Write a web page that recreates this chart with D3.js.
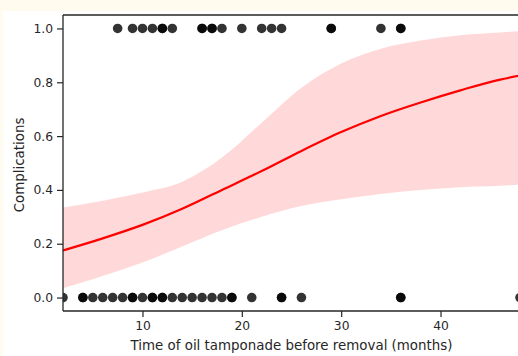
<!DOCTYPE html>
<html><head><meta charset="utf-8">
<script src="https://cdn.jsdelivr.net/npm/d3@7"></script>
<style>body{margin:0;background:#fff;} svg{display:block;}</style>
</head><body><svg id="c" width="518" height="356"></svg>
<script>
// Observations (x in months), outcome 1 and outcome 0
const oneX = [7.5, 9, 10, 11, 12, 12, 13, 16, 16, 17, 17, 18, 20, 22, 23, 24, 29, 29, 34, 36, 36];
const zeroX = [2, 4, 4, 5, 6, 7, 8, 9, 9, 10, 11, 11, 12, 12, 13, 14, 15, 16, 17, 18, 19, 19, 21, 24, 24, 26, 36, 36, 48];
// Fitted logistic curve and confidence band
const gridX = [2, 6, 10, 14, 18, 22, 26, 30, 34, 38, 42, 46, 48];
const fitY  = [0.175, 0.22, 0.27, 0.33, 0.40, 0.47, 0.545, 0.615, 0.675, 0.725, 0.77, 0.81, 0.825];
const hiY   = [0.335, 0.36, 0.39, 0.43, 0.52, 0.65, 0.78, 0.87, 0.925, 0.955, 0.975, 0.985, 0.99];
const loY   = [0.035, 0.08, 0.13, 0.19, 0.25, 0.30, 0.34, 0.365, 0.385, 0.40, 0.41, 0.415, 0.42];
const xTicks = [10, 20, 30, 40];
const yTicks = [0.0, 0.2, 0.4, 0.6, 0.8, 1.0];

const svg = d3.select("#c");
const W = 518, H = 356;
svg.append("rect").attr("width", W).attr("height", H).attr("fill", "#fff");
svg.append("rect").attr("width", W).attr("height", 11).attr("fill", "#fffcef");
svg.append("rect").attr("width", 3).attr("height", H).attr("fill", "#fffcef");

const L = 63, R = 520, T = 15, B = 311;
const x = d3.scaleLinear().domain([2, 48]).range([L, R]);
const y = d3.scaleLinear().domain([-0.05, 1.05]).range([B, T]);

svg.append("clipPath").attr("id", "clip").append("rect")
  .attr("x", L).attr("y", T).attr("width", R - L).attr("height", B - T);
const g = svg.append("g").attr("clip-path", "url(#clip)");

const idx = d3.range(gridX.length);
g.append("path")
  .attr("d", d3.area().curve(d3.curveMonotoneX)
    .x(i => x(gridX[i])).y0(i => y(loY[i])).y1(i => y(hiY[i]))(idx))
  .attr("fill", "#ff0000").attr("fill-opacity", 0.15);

const pts = zeroX.map(v => [v, 0]).concat(oneX.map(v => [v, 1]));
g.selectAll("circle").data(pts).enter().append("circle")
  .attr("cx", d => x(d[0])).attr("cy", d => y(d[1])).attr("r", 4.8)
  .attr("fill", "#000").attr("fill-opacity", 0.8);

g.append("path")
  .attr("d", d3.line().curve(d3.curveMonotoneX)
    .x(i => x(gridX[i])).y(i => y(fitY[i]))(idx))
  .attr("fill", "none").attr("stroke", "#ff0000").attr("stroke-width", 2.2);

const font = "DejaVu Sans, sans-serif";
const xAxis = svg.append("g").attr("transform", `translate(0,${B})`)
  .call(d3.axisBottom(x).tickValues(xTicks).tickFormat(d3.format("d")).tickSize(6).tickPadding(4));
const yAxis = svg.append("g").attr("transform", `translate(${L},0)`)
  .call(d3.axisLeft(y).tickValues(yTicks).tickFormat(d3.format(".1f")).tickSize(6).tickPadding(4));
[xAxis, yAxis].forEach(a => {
  a.select(".domain").remove();
  a.selectAll("line").attr("stroke", "#262626").attr("stroke-width", 1.2);
  a.selectAll("text").attr("font-family", font).attr("font-size", 12.3).attr("fill", "#262626");
});

// spines
const sp = {stroke: "#262626", w: 1.3};
svg.append("line").attr("x1", L).attr("x2", L).attr("y1", T).attr("y2", B).attr("stroke", sp.stroke).attr("stroke-width", sp.w);
svg.append("line").attr("x1", L).attr("x2", R).attr("y1", B).attr("y2", B).attr("stroke", sp.stroke).attr("stroke-width", sp.w);
svg.append("line").attr("x1", L).attr("x2", R).attr("y1", T).attr("y2", T).attr("stroke", sp.stroke).attr("stroke-width", sp.w);

svg.append("text").attr("x", 291.5).attr("y", 350).attr("text-anchor", "middle")
  .attr("font-family", font).attr("font-size", 13.4).attr("fill", "#262626")
  .text("Time of oil tamponade before removal (months)");
svg.append("text").attr("transform", `translate(24,165) rotate(-90)`).attr("text-anchor", "middle")
  .attr("font-family", font).attr("font-size", 13.4).attr("fill", "#262626")
  .text("Complications");
</script></body></html>
